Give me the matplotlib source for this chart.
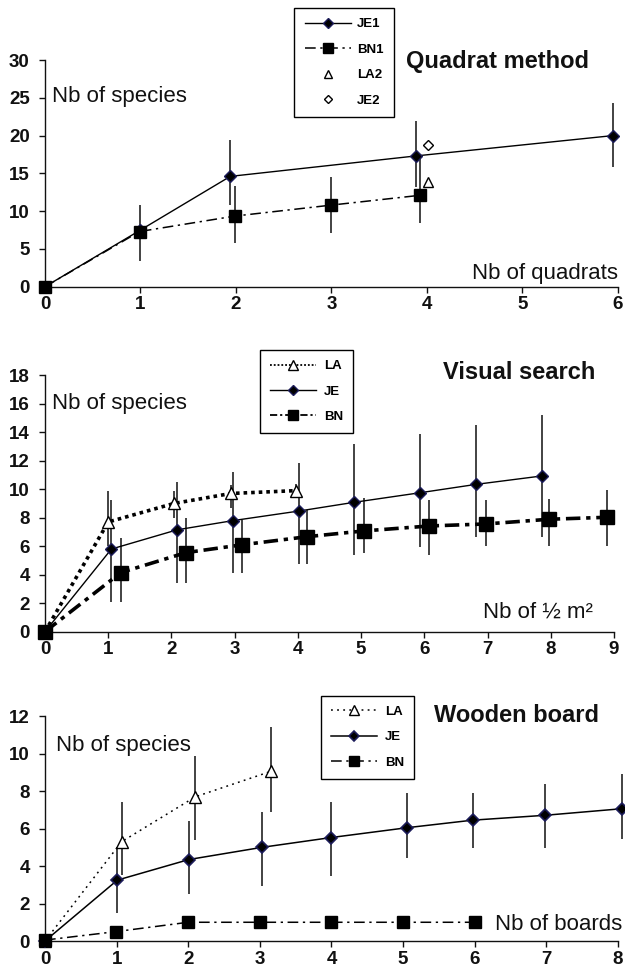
import matplotlib
matplotlib.use('Agg')
import matplotlib.pyplot as plt
import numpy as np

plt.rcParams['font.family'] = ['Liberation Sans', 'DejaVu Sans']

nan = np.nan

# ---------------- Panel 1: Quadrat method ----------------
q_je1_x = [0, 1, 1.94, 3.88, 5.95]
q_je1_y = [0, 7.5, 14.6, 17.3, 20.0]
q_je1_lo = [nan, nan, 10.8, 13.2, 15.8]
q_je1_hi = [nan, nan, 19.4, 21.9, 24.3]

q_bn1_x = [0, 0.99, 1.99, 3.0, 3.93]
q_bn1_y = [0, 7.3, 9.35, 10.8, 12.1]
q_bn1_lo = [nan, 3.4, 5.8, 7.1, 8.4]
q_bn1_hi = [nan, 10.8, 13.3, 14.5, 17.0]

q_la2_x = [4.01]
q_la2_y = [13.9]
q_je2_x = [4.01]
q_je2_y = [18.7]

q_xticks = [0, 1, 2, 3, 4, 5, 6]
q_yticks = [0, 5, 10, 15, 20, 25, 30]

# ---------------- Panel 2: Visual search ----------------
v_la_x = [0, 1.0, 2.04, 2.94, 3.97]
v_la_y = [0, 7.7, 9.0, 9.7, 9.9]
v_la_lo = [nan, 6.0, 8.0, 8.7, 9.4]
v_la_hi = [nan, 9.9, 9.9, 10.3, 10.4]

v_je_x = [0, 1.05, 2.09, 2.98, 4.02, 4.89, 5.93, 6.82, 7.86]
v_je_y = [0, 5.8, 7.15, 7.8, 8.47, 9.08, 9.75, 10.34, 10.93]
v_je_lo = [nan, 2.1, 3.4, 4.1, 4.75, 5.4, 5.95, 6.65, 6.65]
v_je_hi = [nan, 9.25, 10.5, 11.2, 11.85, 13.2, 13.85, 14.5, 15.2]

v_bn_x = [0, 1.2, 2.23, 3.12, 4.15, 5.04, 6.08, 6.97, 7.97, 8.89]
v_bn_y = [0, 4.15, 5.55, 6.1, 6.67, 7.07, 7.42, 7.56, 7.89, 8.03]
v_bn_lo = [nan, 2.05, 3.4, 4.1, 4.75, 5.5, 5.4, 6.0, 6.0, 6.0]
v_bn_hi = [nan, 6.6, 7.95, 7.85, 8.55, 9.4, 9.25, 9.25, 9.3, 9.95]

v_xticks = [0, 1, 2, 3, 4, 5, 6, 7, 8, 9]
v_yticks = [0, 2, 4, 6, 8, 10, 12, 14, 16, 18]

# ---------------- Panel 3: Wooden board ----------------
w_la_x = [0, 1.07, 2.10, 3.15]
w_la_y = [0, 5.3, 7.7, 9.05]
w_la_lo = [nan, 3.5, 5.4, 6.9]
w_la_hi = [nan, 7.4, 9.9, 11.4]

w_je_x = [0, 1.01, 2.01, 3.03, 3.99, 5.06, 5.97, 6.98, 8.05]
w_je_y = [0, 3.25, 4.35, 5.0, 5.52, 6.05, 6.45, 6.71, 7.06]
w_je_lo = [nan, 1.5, 2.5, 2.95, 3.45, 4.45, 4.95, 4.95, 5.45]
w_je_hi = [nan, 5.0, 6.4, 6.9, 7.4, 7.9, 7.9, 8.4, 8.9]

w_bn_x = [0, 0.99, 2.0, 3.0, 4.0, 5.0, 6.0]
w_bn_y = [0.05, 0.5, 1.0, 1.0, 1.0, 1.0, 1.0]

w_xticks = [0, 1, 2, 3, 4, 5, 6, 7, 8]
w_yticks = [0, 2, 4, 6, 8, 10, 12]

# ---------------------------------------------------------
W, H = 625, 977
fig = plt.figure(figsize=(W / 100, H / 100), dpi=100)
fig.patch.set_facecolor('white')

EDGE = '#1c1c5a'
ERRC = '#222222'


def axes_px(left, right, top, bottom):
    return fig.add_axes([left / W, 1 - bottom / H, (right - left) / W, (bottom - top) / H])


def style(ax, xt, yt):
    ax.set_xlim(xt[0], xt[-1])
    ax.set_ylim(yt[0], yt[-1])
    ax.set_xticks(xt)
    ax.set_yticks(yt)
    for s in ['top', 'right']:
        ax.spines[s].set_visible(False)
    for s in ['left', 'bottom']:
        ax.spines[s].set_linewidth(1.0)
        ax.spines[s].set_color('#111111')
    ax.tick_params(direction='out', length=4, width=1, labelsize=13.5, colors='#111111')
    ax.tick_params(axis='y', pad=7)
    ax.tick_params(axis='x', pad=3)
    for lab in ax.get_xticklabels() + ax.get_yticklabels():
        lab.set_fontweight('bold')
    ax.set_facecolor('none')


def errbars(ax, x, y, lo, hi, lw=1.2):
    x = np.asarray(x, float)
    lo = np.asarray(lo, float)
    hi = np.asarray(hi, float)
    m = ~np.isnan(lo)
    ax.vlines(x[m], lo[m], hi[m], colors=ERRC, linewidth=lw, clip_on=False, zorder=2)


def ftext(x, y, s, **kw):
    fig.text(x / W, 1 - y / H, s, **kw)


# ---------- Panel 1 ----------
ax1 = axes_px(45, 618, 60, 286.7)
style(ax1, q_xticks, q_yticks)
errbars(ax1, q_je1_x, q_je1_y, q_je1_lo, q_je1_hi)
errbars(ax1, q_bn1_x, q_bn1_y, q_bn1_lo, q_bn1_hi)
l1, = ax1.plot(q_je1_x, q_je1_y, '-', color='black', lw=1.0, marker='D', ms=6.0,
               mfc='black', mec=EDGE, clip_on=False, zorder=3, label='JE1')
l2, = ax1.plot(q_bn1_x, q_bn1_y, color='black', lw=1.1, ls=(0, (7, 3, 1.5, 3)), marker='s',
               ms=8.8, mfc='black', mec='black', clip_on=False, zorder=4, label='BN1')
l3, = ax1.plot(q_la2_x, q_la2_y, ls='none', marker='^', ms=7.5, mfc='white', mec='black',
               mew=1.0, zorder=4, label='LA2')
l4, = ax1.plot(q_je2_x, q_je2_y, ls='none', marker='D', ms=5.0, mfc='white', mec='black',
               mew=1.0, zorder=4, label='JE2')
leg1 = fig.legend(handles=[l1, l2, l3, l4], loc='upper left',
                  bbox_to_anchor=(294 / W, 1 - 7.5 / H), bbox_transform=fig.transFigure,
                  borderaxespad=0, frameon=True, fancybox=False, framealpha=1,
                  edgecolor='black', prop={'weight': 'bold', 'size': 9.5},
                  handlelength=3.5, handletextpad=0.45, labelspacing=1.0,
                  borderpad=0.8, markerscale=0.8, numpoints=1)
leg1.get_frame().set_linewidth(1.0)

ftext(52, 96.5, 'Nb of species', fontsize=16, va='center', ha='left', color='#111111')
ftext(497, 61.7, 'Quadrat method', fontsize=17, fontweight='bold', va='center', ha='center',
      color='#111111')
ftext(618.5, 273.3, 'Nb of quadrats', fontsize=16, va='center', ha='right', color='#111111')

# ---------- Panel 2 ----------
ax2 = axes_px(45, 614, 375.2, 631.7)
style(ax2, v_xticks, v_yticks)
errbars(ax2, v_la_x, v_la_y, v_la_lo, v_la_hi)
errbars(ax2, v_je_x, v_je_y, v_je_lo, v_je_hi)
errbars(ax2, v_bn_x, v_bn_y, v_bn_lo, v_bn_hi)
m1, = ax2.plot(v_la_x, v_la_y, color='black', lw=2.6, ls=(0, (1, 1.1)), marker='^', ms=9,
               mfc='white', mec='black', mew=1.0, clip_on=False, zorder=3, label='LA')
m2, = ax2.plot(v_je_x, v_je_y, '-', color='black', lw=1.0, marker='D', ms=6.0, mfc='black',
               mec=EDGE, clip_on=False, zorder=4, label='JE')
m3, = ax2.plot(v_bn_x, v_bn_y, color='black', lw=2.6, ls=(0, (4, 1.6, 1.2, 1.6)), marker='s',
               ms=9.5, mfc='black', mec='black', clip_on=False, zorder=5, label='BN')
leg2 = fig.legend(handles=[m1, m2, m3], loc='upper left',
                  bbox_to_anchor=(260 / W, 1 - 350 / H), bbox_transform=fig.transFigure,
                  borderaxespad=0, frameon=True, fancybox=False, framealpha=1,
                  edgecolor='black', prop={'weight': 'bold', 'size': 9.5},
                  handlelength=3.5, handletextpad=0.6, labelspacing=1.0,
                  borderpad=0.75, markerscale=0.8, numpoints=1)
leg2.get_frame().set_linewidth(1.0)
for h in leg2.get_lines():
    if h.get_linewidth() > 2:
        h.set_linewidth(1.3)

ftext(52, 404, 'Nb of species', fontsize=16, va='center', ha='left', color='#111111')
ftext(519, 372.7, 'Visual search', fontsize=17, fontweight='bold', va='center', ha='center',
      color='#111111')
ftext(538, 611.7, 'Nb of ½ m²', fontsize=16, va='center', ha='center', color='#111111')

# ---------- Panel 3 ----------
ax3 = axes_px(45, 618, 716.2, 941)
style(ax3, w_xticks, w_yticks)
errbars(ax3, w_la_x, w_la_y, w_la_lo, w_la_hi)
errbars(ax3, w_je_x, w_je_y, w_je_lo, w_je_hi)
n1, = ax3.plot(w_la_x, w_la_y, color='black', lw=1.1, ls=(0, (1.2, 2.8)), marker='^', ms=9,
               mfc='white', mec='black', mew=1.0, clip_on=False, zorder=3, label='LA')
n2, = ax3.plot(w_je_x, w_je_y, '-', color='black', lw=1.1, marker='D', ms=6.0, mfc='black',
               mec=EDGE, mew=1.2, clip_on=False, zorder=4, label='JE')
n3, = ax3.plot(w_bn_x, w_bn_y, color='black', lw=1.1, ls=(0, (7, 3, 1.5, 3)), marker='s',
               ms=8.8, mfc='black', mec='black', clip_on=False, zorder=5, label='BN')
leg3 = fig.legend(handles=[n1, n2, n3], loc='upper left',
                  bbox_to_anchor=(321 / W, 1 - 695.7 / H), bbox_transform=fig.transFigure,
                  borderaxespad=0, frameon=True, fancybox=False, framealpha=1,
                  edgecolor='black', prop={'weight': 'bold', 'size': 9.5},
                  handlelength=3.5, handletextpad=0.6, labelspacing=1.0,
                  borderpad=0.75, markerscale=0.8, numpoints=1)
leg3.get_frame().set_linewidth(1.0)

ftext(56, 745, 'Nb of species', fontsize=16, va='center', ha='left', color='#111111')
ftext(517, 716, 'Wooden board', fontsize=17, fontweight='bold', va='center', ha='center',
      color='#111111')
ftext(622.7, 925, 'Nb of boards', fontsize=16, va='center', ha='right', color='#111111')

fig.savefig('out.png', dpi=100, facecolor='white')
